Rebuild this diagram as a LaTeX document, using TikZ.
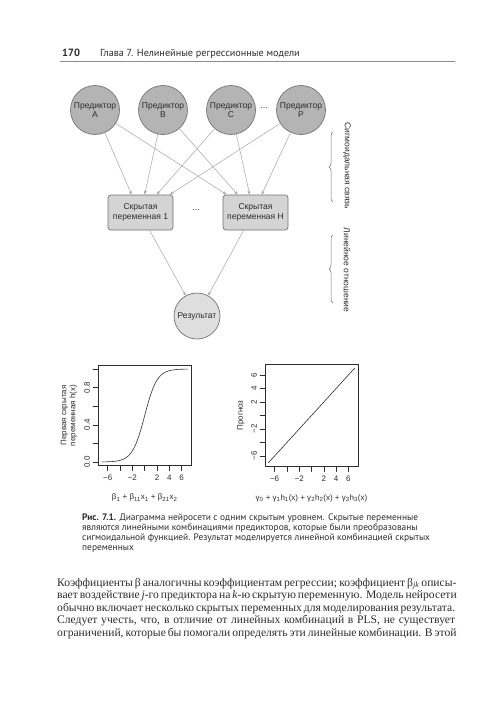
\documentclass[tikz,border=0pt]{standalone}
\usepackage{fontspec}
\setmainfont{Liberation Serif}
\setsansfont{Liberation Sans}
\newfontfamily\capfont{PT Sans}
\usetikzlibrary{calc,positioning,arrows.meta,decorations.pathreplacing}
\definecolor{ink}{RGB}{45,45,45}
\definecolor{linkgray}{RGB}{165,165,165}
\definecolor{rimgray}{RGB}{115,115,115}
\definecolor{predfill}{RGB}{180,180,180}
\definecolor{hidfill}{RGB}{212,212,212}
\definecolor{outfill}{RGB}{222,222,222}
\definecolor{rulegray}{RGB}{140,140,140}
\newcommand{\netfont}{\sffamily\fontsize{8.5}{9.5}\selectfont}
\newcommand{\plotfont}{\sffamily\fontsize{8}{9}\selectfont}
\tikzset{
  prednode/.style={circle, draw=rimgray, fill=predfill, line width=0.7pt,
                   minimum size=49pt, inner sep=0pt, align=center, font=\netfont, text=ink},
  hidbox/.style={draw=rimgray, fill=hidfill, rounded corners=3pt, line width=0.7pt,
                 minimum width=65pt, minimum height=35pt, inner sep=0pt, align=center,
                 font=\netfont, text=ink},
  outnode/.style={circle, draw=rimgray, fill=outfill, line width=0.7pt,
                  minimum size=46pt, inner sep=0pt, font=\netfont, text=ink},
  link/.style={linkgray, line width=0.5pt, -{Stealth[length=4pt,width=3pt]}},
  layerbrace/.style={decorate, decoration={brace, amplitude=4pt}, rimgray, line width=0.5pt},
  layerlab/.style={rotate=-90, font=\netfont, text=ink, inner sep=0pt},
  plotbox/.style={ink, line width=0.5pt},
  sigcurve/.style={ink, line width=0.6pt},
  ticklab/.style={font=\plotfont, text=ink, inner sep=0pt},
  captext/.style={font=\capfont\fontsize{9.4}{10}\selectfont, text=ink, anchor=base west, inner sep=0pt},
  bodytext/.style={font=\fontsize{11.6}{12.6}\selectfont, text=ink, anchor=base west, inner sep=0pt},
}
\begin{document}
\begin{tikzpicture}[x=1pt,y=-1pt,line cap=round]
  \useasboundingbox[fill=white] (0,0) rectangle (500,707);
  % ---- header ----
  \node[anchor=base west, inner sep=0pt, text=ink,
        font=\capfont\bfseries\fontsize{10.5}{12}\selectfont] (pagenum) at (62,56.5) {170};
  \node[anchor=base west, inner sep=0pt, text=ink,
        font=\capfont\fontsize{10.2}{11}\selectfont] (chapter) at (100,56.5) {Глава 7. Нелинейные регрессионные модели};
  \draw[rulegray, line width=0.8pt] (60,61) -- (455,61);
  % ---- inputs ----
  \foreach \n/\x/\t in {pA/95/A, pB/163/B, pC/231/C, pP/301/P}
    \node[prednode] (\n) at (\x,110) {Предиктор\\\t};
  \node[font=\netfont, text=ink] (pdots) at (264,108) {\dots};
  % ---- hidden layer and result ----
  \node[hidbox] (h1) at (140.5,212.5) {Скрытая\\переменная 1};
  \node[hidbox] (hH) at (255.5,212.5) {Скрытая\\переменная H};
  \node[font=\netfont, text=ink] (hdots) at (196,210) {\dots};
  \node[outnode] (out) at (197,316) {Результат};
  % ---- links ----
  \foreach \n/\a/\b in {pA/24/4, pB/37/15, pC/49/27, pP/62/39}{
    \coordinate (h1\n) at ($(h1.north west)+(\a,0)$);
    \coordinate (hH\n) at ($(hH.north west)+(\b,0)$);
    \draw[link] (\n) -- (h1\n);
    \draw[link] (\n) -- (hH\n);
  }
  \coordinate (h1o) at ($(h1.south west)+(42,0)$);
  \coordinate (hHo) at ($(hH.south west)+(21,0)$);
  \draw[link] (h1o) -- (out);
  \draw[link] (hHo) -- (out);
  % ---- braces ----
  \draw[layerbrace] (333,202) -- (333,132);
  \node[layerlab] (sigtxt) at (347,166) {Сигмоидальная связь};
  \draw[layerbrace] (333,303) -- (333,235);
  \node[layerlab] (lintxt) at (347,270) {Линейное отношение};
  % ---- sigmoid panel ----
  \begin{scope}[shift={(144.7,462)}, x=6.17pt, y=93pt]
    \draw[plotbox] (-7.56,-0.04) rectangle (7.56,1.04);
    \draw[sigcurve] plot[domain=-7:7, samples=90, smooth] (\x,{1/(1+exp(-\x))});
    \foreach \u in {-6,-4,...,6}
      \draw[plotbox] (\u,-0.04) -- ++(0,-5pt);
    \foreach \v in {0,0.2,0.4,0.6,0.8,1}
      \draw[plotbox] (-7.56,\v) -- ++(-5pt,0);
    \foreach \u/\s [count=\i] in {-6/−6,-2/−2,2/2,4/4,6/6}
      \node[ticklab] (sx\i) at ($(\u,-0.04)+(0,-12pt)$) {\s};
    \foreach \v/\s [count=\i] in {0/0.0,0.4/0.4,0.8/0.8}
      \node[ticklab, rotate=90] (sy\i) at ($(-7.56,\v)+(-11pt,0)$) {\s};
    \node[ticklab, rotate=90, align=center] (sylab) at ($(-7.56,0.5)+(-29pt,0)$)
      {Первая скрытая\\переменная h(x)};
    \node[ticklab] (sxlab) at ($(0,-0.04)+(0,-32pt)$)
      {β\textsubscript{1} + β\textsubscript{11}x\textsubscript{1} + β\textsubscript{21}x\textsubscript{2}};
  \end{scope}
  % ---- linear panel ----
  \begin{scope}[shift={(311.5,415.5)}, x=6.15pt, y=6.75pt]
    \draw[plotbox] (-7.56,-7.56) rectangle (7.56,7.56);
    \draw[sigcurve] (-7,-7) -- (7,7);
    \foreach \u in {-6,-4,...,6}{
      \draw[plotbox] (\u,-7.56) -- ++(0,-5pt);
      \draw[plotbox] (-7.56,\u) -- ++(-5pt,0);
    }
    \foreach \u/\s [count=\i] in {-6/−6,-2/−2,2/2,4/4,6/6}{
      \node[ticklab] (lx\i) at ($(\u,-7.56)+(0,-12pt)$) {\s};
      \node[ticklab, rotate=90] (ly\i) at ($(-7.56,\u)+(-11pt,0)$) {\s};
    }
    \node[ticklab, rotate=90] (lylab) at ($(-7.56,0)+(-24pt,0)$) {Прогноз};
    \node[ticklab] (lxlab) at ($(0,-7.56)+(0,-31.5pt)$)
      {γ\textsubscript{0} + γ\textsubscript{1}h\textsubscript{1}(x) + γ\textsubscript{2}h\textsubscript{2}(x) + γ\textsubscript{3}h\textsubscript{3}(x)};
  \end{scope}
  % ---- caption ----
  \foreach \t [count=\i] in {{\textbf{Рис. 7.1.} Диаграмма нейросети с одним скрытым уровнем. Скрытые переменные},
      {являются линейными комбинациями предикторов, которые были преобразованы},
      {сигмоидальной функцией. Результат моделируется линейной комбинацией скрытых},
      {переменных}}
    \node[captext] (cap\i) at (82,{510+10*\i}) {\t};
  % ---- running text ----
  \foreach \t [count=\i] in {{Коэффициенты β аналогичны коэффициентам регрессии; коэффициент β\textsubscript{\textit{jk}} описы-},
      {вает воздействие \textit{j}-го предиктора на \textit{k}-ю скрытую переменную. Модель нейросети},
      {обычно включает несколько скрытых переменных для моделирования результата.},
      {Следует учесть, что, в отличие от линейных комбинаций в PLS, не существует},
      {ограничений, которые бы помогали определять эти линейные комбинации. В этой}}
    \node[bodytext] (body\i) at (57,{573.4+12.6*\i}) {\makebox[398pt][s]{\t}};
\end{tikzpicture}
\end{document}
